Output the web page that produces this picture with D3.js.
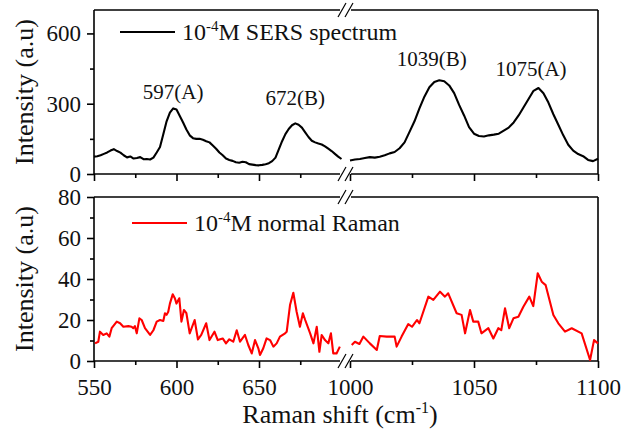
<!DOCTYPE html>
<html>
<head>
<meta charset="utf-8">
<script src="https://cdn.jsdelivr.net/npm/d3@7"></script>
<style>
  body { margin: 0; background: #fff; }
  text { font-family: "Liberation Serif", "Times New Roman", serif; fill: #111; }
</style>
</head>
<body>
<svg id="chart"></svg>
<script>
// SERS spectrum (black), two segments of the broken axis
const sersLeft = [
  [550,74],[552,76],[554,80],[556,86],[558,92],[560,100],[562,106],[564,98],[566,91],[568,80],
  [570,71],[572,75],[574,66],[576,68],[578,72],[580,63],[582,64],[584,62],[586,70],[588,92],
  [590,115],[592,170],[594,225],[596,262],[598,280],[600,275],[602,248],[604,220],[606,190],[608,165],
  [610,153],[612,150],[614,150],[616,146],[618,140],[620,135],[622,122],[624,108],[626,92],[628,80],
  [630,66],[632,60],[634,56],[636,50],[638,48],[640,52],[642,50],[644,42],[646,40],[648,38],
  [650,37],[652,39],[654,42],[656,46],[658,55],[660,70],[662,105],[664,140],[666,170],[668,192],
  [670,208],[672,216],[674,210],[676,198],[678,178],[680,158],[682,142],[684,135],[686,130],[688,126],
  [690,118],[692,108],[694,98],[696,86],[698,74],[700,64]
];
const sersRight = [
  [1000,58],[1002,62],[1004,64],[1006,68],[1008,72],[1010,70],[1012,74],[1014,80],[1016,88],[1018,94],
  [1020,110],[1022,135],[1024,180],[1026,225],[1028,280],[1030,330],[1032,370],[1034,393],[1036,400],[1038,396],
  [1040,378],[1042,345],[1044,295],[1046,250],[1048,200],[1050,172],[1052,162],[1054,160],[1056,165],[1058,168],
  [1060,172],[1062,185],[1064,198],[1066,220],[1068,250],[1070,285],[1072,320],[1074,355],[1076,367],[1078,345],
  [1080,305],[1082,255],[1084,210],[1086,165],[1088,125],[1090,100],[1092,85],[1094,76],[1096,60],[1098,55],
  [1100,65]
];

// normal Raman spectrum (red)
const ramanLeft = [
  [550.6,8.6],[552.6,9.4],[553.6,14.3],[555.6,12.7],[557.7,13.5],[559.3,11.9],[560.7,16],[563.8,19.2],[565.8,18.4],[567.8,16.7],
  [570.8,17],[572.8,16.7],[573.8,16],[574.8,17],[575.9,13.5],[577.5,20.8],[578.9,20],[580.9,16],[584,12.7],[586,15],
  [588,19.2],[590,20],[592,19.5],[593,23.3],[594,22.5],[595,24],[596,28],[597.7,32.5],[599,30.6],[600,28],
  [601.7,30.6],[603,19.2],[604.5,24.9],[606,23.3],[608,13.5],[611,20],[613,10.5],[615,12.7],[618,18.4],[620,10.2],
  [623,14.3],[625,10.2],[628,11],[630,8.6],[632,10.6],[634.4,9.4],[636.5,15],[638.5,9.4],[641.5,12.7],[643.5,7.8],
  [645.6,3.7],[647.6,10.2],[649.6,6.2],[650.6,2.9],[652.6,6.2],[654.6,11],[656.7,10.2],[658.7,7],[660.7,8.6],[662.7,11.9],
  [665.8,13.5],[666.8,14.3],[668.8,27.3],[670.8,33.3],[672.8,24],[674.8,16.7],[676.6,23.3],[678,20],[681,13.5],[683,8.6],
  [685,16.7],[686.6,4.5],[688,12.7],[690,10.2],[692,8.6],[693.6,13.5],[695,3.7],[697,3.7],[699,7]
];
const ramanRight = [
  [1000.7,7.8],[1002,9.4],[1003.8,8.3],[1005.4,11.9],[1008,8.6],[1010.8,5.4],[1012,12.2],[1014.8,11.9],[1018,11.9],[1018.8,7],
  [1020.8,11.9],[1023.5,18],[1025,16.7],[1027,20],[1028,18.4],[1031.6,31.4],[1033.6,29.8],[1036.3,33.8],[1038.3,31.4],[1039.6,33],
  [1043,23.3],[1045,22.5],[1046.4,13.5],[1048.4,24.9],[1049.7,19.2],[1051.7,19.2],[1053,13.5],[1055.8,16],[1057.8,11],[1059.8,16],
  [1061,15],[1062.5,25.7],[1064.2,16],[1065.9,20.8],[1067.9,21.6],[1069.9,26.5],[1072.3,31.4],[1073.9,26.8],[1075.7,42.8],[1077.3,38.7],
  [1078.9,37],[1082,22.4],[1084,18.4],[1086.7,14.3],[1089.4,16],[1093.4,13.5],[1096.8,0.5],[1098.4,10.2],[1100,8.6]
];

const peakLabels = [
  { text: '597(A)', x: 598, y: 318, side: 'L' },
  { text: '672(B)', x: 672, y: 295, side: 'L' },
  { text: '1039(B)', x: 1033, y: 460, side: 'R' },
  { text: '1075(A)', x: 1073, y: 420, side: 'R' }
];

const xMajorL = [550, 600, 650], xMinorL = [575, 625, 675];
const xMajorR = [1000, 1050, 1100], xMinorR = [1025, 1075];
const yTopMajor = [0, 300, 600], yTopMinor = [150, 450];
const yBotMajor = [0, 20, 40, 60, 80], yBotMinor = [10, 30, 50, 70];

const W = 627, H = 432;
const left = 94, right = 598, breakL = 342, breakR = 349;

const svg = d3.select('#chart').attr('width', W).attr('height', H);

// x scales for the two pieces of the broken axis
const xL = d3.scaleLinear().domain([550, 700]).range([left, 341.5]);
const xR = d3.scaleLinear().domain([1000, 1100]).range([350, right]);

const yTop = d3.scaleLinear().domain([0, 700]).range([174, 10]);
const yBot = d3.scaleLinear().domain([0, 80]).range([361, 197]);

function drawPanel(y, yMajor, yMinor, showXLabels) {
  const top = y.range()[1], bottom = y.range()[0];
  const g = svg.append('g');

  // frame lines (with the break)
  [top, bottom].forEach(yy => {
    g.append('line').attr('x1', left).attr('x2', breakL - 2).attr('y1', yy).attr('y2', yy);
    g.append('line').attr('x1', breakR + 2).attr('x2', right).attr('y1', yy).attr('y2', yy);
    [breakL, breakR].forEach(bx => {
      g.append('line').attr('x1', bx - 4).attr('y1', yy + 7).attr('x2', bx + 4).attr('y2', yy - 7)
        .attr('stroke-width', 1.2);
    });
  });
  g.append('line').attr('x1', left).attr('x2', left).attr('y1', top).attr('y2', bottom);
  g.append('line').attr('x1', right).attr('x2', right).attr('y1', top).attr('y2', bottom);
  g.selectAll('line').attr('stroke', '#000').attr('stroke-width', function () {
    return d3.select(this).attr('stroke-width') || 1.6;
  });

  // x ticks
  const fmt = showXLabels ? d3.format('d') : () => '';
  [[xL, xMajorL, xMinorL], [xR, xMajorR, xMinorR]].forEach(([x, maj, min]) => {
    const a = g.append('g').attr('transform', `translate(0,${bottom})`)
      .call(d3.axisBottom(x).tickValues(maj).tickSize(7).tickPadding(11).tickFormat(fmt));
    a.select('.domain').remove();
    a.selectAll('text').style('font-size', '23px').attr('fill', '#111');
    const b = g.append('g').attr('transform', `translate(0,${bottom})`)
      .call(d3.axisBottom(x).tickValues(min).tickSize(4).tickFormat(() => ''));
    b.select('.domain').remove();
  });

  // y ticks
  const ya = g.append('g').attr('transform', `translate(${left},0)`)
    .call(d3.axisLeft(y).tickValues(yMajor).tickSize(7).tickPadding(6));
  ya.select('.domain').remove();
  ya.selectAll('text').style('font-size', '23px').attr('fill', '#111');
  const yb = g.append('g').attr('transform', `translate(${left},0)`)
    .call(d3.axisLeft(y).tickValues(yMinor).tickSize(4).tickFormat(() => ''));
  yb.select('.domain').remove();
  svg.selectAll('.tick line').attr('stroke', '#000').attr('stroke-width', 1.6);

  // y title
  g.append('text')
    .attr('transform', `translate(33,${(top + bottom) / 2}) rotate(-90)`)
    .attr('text-anchor', 'middle')
    .style('font-size', '26px')
    .text('Intensity (a.u)');
}

drawPanel(yTop, yTopMajor, yTopMinor, false);
drawPanel(yBot, yBotMajor, yBotMinor, true);

// curves
function curve(data, x, y, color) {
  svg.append('path')
    .datum(data)
    .attr('fill', 'none')
    .attr('stroke', color)
    .attr('stroke-width', 2.1)
    .attr('stroke-linejoin', 'round')
    .attr('d', d3.line().x(d => x(d[0])).y(d => y(d[1])));
}
curve(sersLeft, xL, yTop, '#000');
curve(sersRight, xR, yTop, '#000');
curve(ramanLeft, xL, yBot, '#ff0000');
curve(ramanRight, xR, yBot, '#ff0000');

// peak labels
peakLabels.forEach(p => {
  svg.append('text')
    .attr('x', (p.side === 'L' ? xL : xR)(p.x))
    .attr('y', yTop(p.y))
    .attr('text-anchor', 'middle')
    .style('font-size', '21px')
    .attr('fill', '#222')
    .text(p.text);
});

// legends
function legend(pos, color, label) {
  svg.append('line').attr('x1', pos.x1).attr('x2', pos.x1 + 55).attr('y1', pos.y).attr('y2', pos.y)
    .attr('stroke', color).attr('stroke-width', 2);
  const t = svg.append('text').attr('x', pos.x1 + 62).attr('y', pos.y + 8).style('font-size', '24px');
  t.append('tspan').text('10');
  t.append('tspan').attr('dy', -9).style('font-size', '15px').text('-4');
  t.append('tspan').attr('dy', 9).text(label);
}
legend({ x1: 120, y: 32 }, '#000', 'M SERS spectrum');
legend({ x1: 132, y: 223 }, '#ff0000', 'M normal Raman');

// x title
const xt = svg.append('text').attr('x', 340).attr('y', 423).attr('text-anchor', 'middle').style('font-size', '26px');
xt.append('tspan').text('Raman shift (cm');
xt.append('tspan').attr('dy', -10).style('font-size', '16px').text('-1');
xt.append('tspan').attr('dy', 10).text(')');
</script>
</body>
</html>
